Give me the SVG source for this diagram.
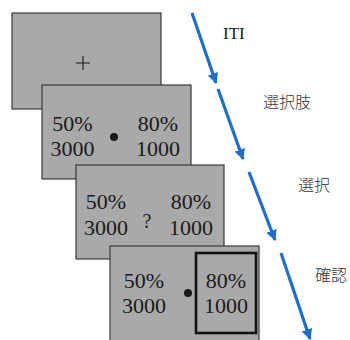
<svg xmlns="http://www.w3.org/2000/svg" width="350" height="340" viewBox="0 0 350 340">
<style>
.scr{fill:#a9a9a9;stroke:#3a3a3a;stroke-width:1.2}
.num{font-family:"Liberation Serif",serif;font-size:22px;fill:#1a1a1a;text-anchor:middle}
.lbl{font-family:"Noto Sans CJK JP",sans-serif;font-size:16px;font-weight:300;fill:#333}
.arr{stroke:#1a6fd4;stroke-width:3.2;fill:none;marker-end:url(#ah)}
</style>
<defs>
<marker id="ah" viewBox="0 0 10 10" refX="9" refY="5" markerWidth="3.4" markerHeight="3.4" orient="auto" markerUnits="strokeWidth">
<path d="M0,0 L10,5 L0,10 z" fill="#1a6fd4"/>
</marker>
</defs>
<rect width="350" height="340" fill="#fff"/>
<g id="screen1">
<rect class="scr" x="12" y="13" width="149" height="96"/>
<path d="M76,63 H90 M83,56 V70" stroke="#1a1a1a" stroke-width="1.1"/>
</g>
<g id="screen2">
<rect class="scr" x="42" y="85" width="149" height="94"/>
<text class="num" x="72.5" y="131">50%</text>
<text class="num" x="72.5" y="156">3000</text>
<text class="num" x="158" y="131">80%</text>
<text class="num" x="158" y="156">1000</text>
<circle cx="114" cy="137" r="4" fill="#1a1a1a"/>
</g>
<g id="screen3">
<rect class="scr" x="76" y="165" width="148" height="94"/>
<text class="num" x="106" y="209">50%</text>
<text class="num" x="106" y="235">3000</text>
<text class="num" x="191" y="209">80%</text>
<text class="num" x="191" y="235">1000</text>
<text class="num" x="147" y="228" style="font-size:20px">?</text>
</g>
<g id="screen4">
<rect class="scr" x="110" y="246" width="149" height="100"/>
<text class="num" x="144" y="288">50%</text>
<text class="num" x="144" y="313">3000</text>
<rect x="196" y="253" width="60" height="80" fill="none" stroke="#111" stroke-width="2.6"/>
<text class="num" x="226" y="288">80%</text>
<text class="num" x="226" y="313">1000</text>
<circle cx="188" cy="293" r="4" fill="#1a1a1a"/>
</g>
<g id="connectors">
<line class="arr" x1="192" y1="13" x2="216" y2="83"/>
<line class="arr" x1="218" y1="89" x2="243" y2="159"/>
<line class="arr" x1="249" y1="172" x2="275" y2="240"/>
<line class="arr" x1="281" y1="253" x2="310" y2="339"/>
</g>
<g id="labels">
<text x="223" y="39" style="font-family:'Liberation Serif',serif;font-size:17px;fill:#1a1a1a">ITI</text>
<text class="lbl" x="263" y="108">選択肢</text>
<text class="lbl" x="298" y="191">選択</text>
<text class="lbl" x="315" y="281">確認</text>
</g>
</svg>
